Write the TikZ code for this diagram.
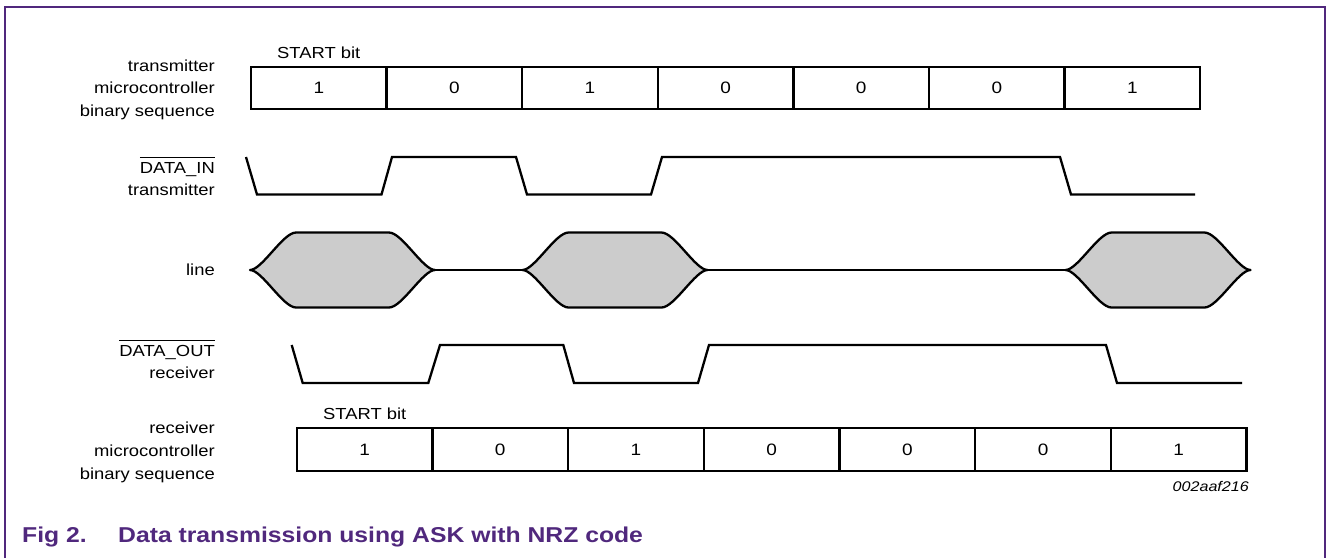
\documentclass[tikz,border=0pt]{standalone}
\usepackage{fontspec}
\setmainfont{Liberation Sans}[FakeStretch=1.15]
\definecolor{nxp}{RGB}{80,40,125}
\definecolor{envgray}{RGB}{204,204,204}
\newcommand\myovl[1]{\setbox0\hbox{#1}\rlap{\rule[\dimexpr\ht0+4pt\relax]{\wd0}{1pt}}\box0}
\tikzset{
  cell/.style={draw, line width=2.4pt, minimum width=135.7pt, minimum height=42pt,
    inner sep=0pt, outer sep=0pt, font=\fontsize{16.5}{19}\selectfont},
  wave/.style={line width=2.3pt, line join=miter},
  env/.style={draw, fill=envgray, line width=2.3pt, line join=round},
  lab/.style={font=\fontsize{16}{22.8}\selectfont, inner sep=0pt},
  capt/.style={font=\fontsize{21.5}{24}\selectfont\bfseries, text=nxp, inner sep=0pt, anchor=base west}
}
\begin{document}
\begin{tikzpicture}[x=1pt,y=-1pt]
\useasboundingbox (0,0) rectangle (1326,558);
% frame
\draw[nxp, line width=2pt] (5,558) -- (5,7) -- (1324.5,7) -- (1324.5,558);

% labels
\node[lab, anchor=base east] (l1) at (215,71)
  {\begin{tabular}[t]{@{}r@{}}transmitter\\microcontroller\\binary sequence\end{tabular}};
\node[lab, anchor=base east] (l2) at (215,173)
  {\begin{tabular}[t]{@{}r@{}}\myovl{DATA\_IN}\\transmitter\end{tabular}};
\node[lab, anchor=base east] (l3) at (215,275.5) {line};
\node[lab, anchor=base east] (l4) at (215,356)
  {\begin{tabular}[t]{@{}r@{}}\myovl{DATA\_OUT}\\receiver\end{tabular}};
\node[lab, anchor=base east] (l5) at (215,433.5)
  {\begin{tabular}[t]{@{}r@{}}receiver\\microcontroller\\binary sequence\end{tabular}};

% transmitter sequence
\node[lab, anchor=base west] (s1) at (277,58) {START bit};
\foreach \d [count=\i] in {1,0,1,0,0,0,1}
  \node[cell] (t\i) at ({251+135.6*(\i-0.5)},88) {\d};

% DATA_IN
\draw[wave] (246,157) -- (257,194.5) -- (381.5,194.5) -- (392,157) -- (516,157)
  -- (527,194.5) -- (651,194.5) -- (662,157) -- (1060,157) -- (1071,194.5) -- (1195,194.5);

% line (ASK)
\foreach \x in {250,522.5,1065.5}
  \path[env] (\x,270) .. controls ({\x+12},270) and ({\x+33},232.5) .. ({\x+46},232.5)
    -- ({\x+139},232.5) .. controls ({\x+152},232.5) and ({\x+173},270) .. ({\x+185},270)
    .. controls ({\x+173},270) and ({\x+152},307.5) .. ({\x+139},307.5)
    -- ({\x+46},307.5) .. controls ({\x+33},307.5) and ({\x+12},270) .. cycle;
\draw[wave] (435,270) -- (522.5,270);
\draw[wave] (707.5,270) -- (1065.5,270);

% DATA_OUT
\draw[wave] (291.7,345) -- (302.7,383) -- (428.3,383) -- (440,345) -- (563.3,345)
  -- (574,383) -- (698,383) -- (709,345) -- (1106,345) -- (1117,383) -- (1242,383);

% receiver sequence
\node[lab, anchor=base west] (s2) at (323,419.5) {START bit};
\foreach \d [count=\i] in {1,0,1,0,0,0,1}
  \node[cell, minimum height=43pt] (r\i) at ({296.7+135.7*(\i-0.5)},449.5) {\d};

\node[anchor=base east, font=\fontsize{14}{16}\selectfont\itshape, inner sep=0pt] (id) at (1249,491) {002aaf216};

% caption
\node[capt] (fig) at (22,542.5) {Fig 2.};
\node[capt] (cap) at (118,542.5) {Data transmission using ASK with NRZ code};
\end{tikzpicture}
\end{document}
